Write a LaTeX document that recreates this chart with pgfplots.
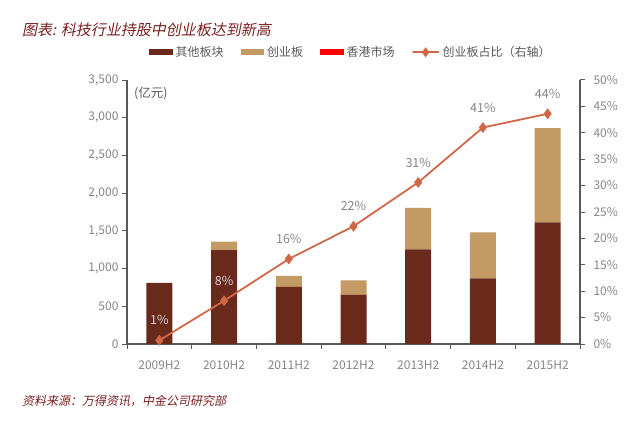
\documentclass[border=0pt]{standalone}
\usepackage{fontspec}
\setmainfont{Noto Sans CJK SC}
\newfontfamily\slantcjk[FakeSlant=0.2]{Noto Sans CJK SC}
\usepackage{pgfplots}
\pgfplotsset{compat=1.18}
\definecolor{darkBrown}{HTML}{6A2A1B}
\definecolor{tanBar}{HTML}{C49A64}
\definecolor{hkRed}{HTML}{FF0000}
\definecolor{lineOrange}{HTML}{D06848}
\definecolor{titleRed}{HTML}{7A1E1E}
\definecolor{axisGrey}{HTML}{595959}
\definecolor{tickGrey}{HTML}{858585}
\definecolor{labLight}{HTML}{D4D4D4}
\pgfplotsset{
  boxleg/.style={legend image code/.code={\path[##1] (0pt,-3pt) rectangle (23.5pt,3pt);}},
  lineleg/.style={legend image code/.code={%
    \draw[##1, mark=none] (0pt,0pt) -- (26pt,0pt);
    \path[##1] plot coordinates {(13pt,0pt)};}},
}

\begin{document}
\begin{tikzpicture}
\path[use as bounding box] (0pt,0pt) rectangle (640pt,424pt);
\node[anchor=west, text=titleRed, inner sep=0pt] at (22pt,394pt)
  {\slantcjk\fontsize{15}{17}\selectfont 图表: 科技行业持股中创业板达到新高};
\node[anchor=west, text=titleRed, inner sep=0pt] at (22pt,23pt)
  {\slantcjk\fontsize{12}{14}\selectfont 资料来源：万得资讯，中金公司研究部};

% left axis: stacked bars
\begin{axis}[
  at={(127pt,80pt)}, anchor=south west,
  scale only axis, width=453pt, height=264pt,
  ybar stacked, bar width=26pt,
  xmin=-0.5, xmax=6.5, ymin=0, ymax=3500,
  xtick={0,...,6},
  xticklabels={2009H2,2010H2,2011H2,2012H2,2013H2,2014H2,2015H2},
  minor xtick={-0.5,0.5,...,6.5},
  ytick={0,500,...,3500},
  axis x line*=bottom, axis y line*=left,
  tick align=outside, major tick length=5pt, minor tick length=5pt,
  major x tick style={draw=none},
  minor x tick style={draw=axisGrey, line width=1pt},
  y tick style={draw=axisGrey, line width=1pt},
  axis line style={draw=axisGrey, line width=1.2pt},
  ticklabel style={font=\fontsize{12}{14}\selectfont, text=tickGrey},
  xticklabel style={yshift=-8pt},
  /pgf/number format/assume math mode=true,
  /pgf/number format/1000 sep={,},
  legend columns=4,
  legend style={draw=none, fill=none, at={(0.492,1.105)}, anchor=center,
    font=\fontsize{12}{14}\selectfont, text=axisGrey, column sep=0pt,
    nodes={inner xsep=0pt, inner ysep=2pt},
    /tikz/every odd column/.append style={column sep=3pt},
    /tikz/every even column/.append style={column sep=17pt}},
  clip=false,
]
\addplot[fill=darkBrown, draw=none, boxleg]
  coordinates {(0,810) (1,1245) (2,758) (3,652) (4,1253) (5,871) (6,1612)};
\addplot[fill=tanBar, draw=none, boxleg]
  coordinates {(0,0) (1,111) (2,146) (3,190) (4,553) (5,608) (6,1250)};
\addlegendimage{fill=hkRed, draw=none, boxleg}
\addlegendimage{color=lineOrange, line width=1.8pt, mark=diamond*, mark size=3.5pt, lineleg}
\legend{其他板块,创业板,香港市场,创业板占比（右轴）}
\node[anchor=west, text=axisGrey, font=\fontsize{12.5}{14}\selectfont]
  at (rel axis cs:0.008,0.95) {(亿元)};
\end{axis}

% right axis: share of ChiNext
\begin{axis}[
  at={(127pt,80pt)}, anchor=south west,
  scale only axis, width=453pt, height=264pt,
  xmin=-0.5, xmax=6.5, ymin=0, ymax=50,
  ytick={0,5,...,50},
  yticklabel={\pgfmathprintnumber{\tick}\%},
  axis x line=none, axis y line*=right,
  tick align=outside, major tick length=5pt,
  y tick style={draw=axisGrey, line width=1pt},
  axis line style={draw=axisGrey, line width=1.2pt},
  ticklabel style={font=\fontsize{12}{14}\selectfont, text=tickGrey},
  yticklabel style={xshift=5pt},
  /pgf/number format/assume math mode=true,
  clip=false,
]
\addplot[color=lineOrange, line width=1.8pt, mark=diamond*, mark size=4pt,
  point meta=explicit symbolic,
  visualization depends on={value \coordindex \as \myidx},
  nodes near coords={\ifnum\myidx<2 \color{labLight}\fi\pgfplotspointmeta},
  every node near coord/.append style={anchor=center, yshift=20pt,
    font=\fontsize{12.5}{14}\selectfont, text=tickGrey}]
  coordinates {(0,0.7)[1\%] (1,8.2)[8\%] (2,16.1)[16\%] (3,22.3)[22\%]
               (4,30.6)[31\%] (5,41.0)[41\%] (6,43.6)[44\%]};
\end{axis}
\end{tikzpicture}
\end{document}
